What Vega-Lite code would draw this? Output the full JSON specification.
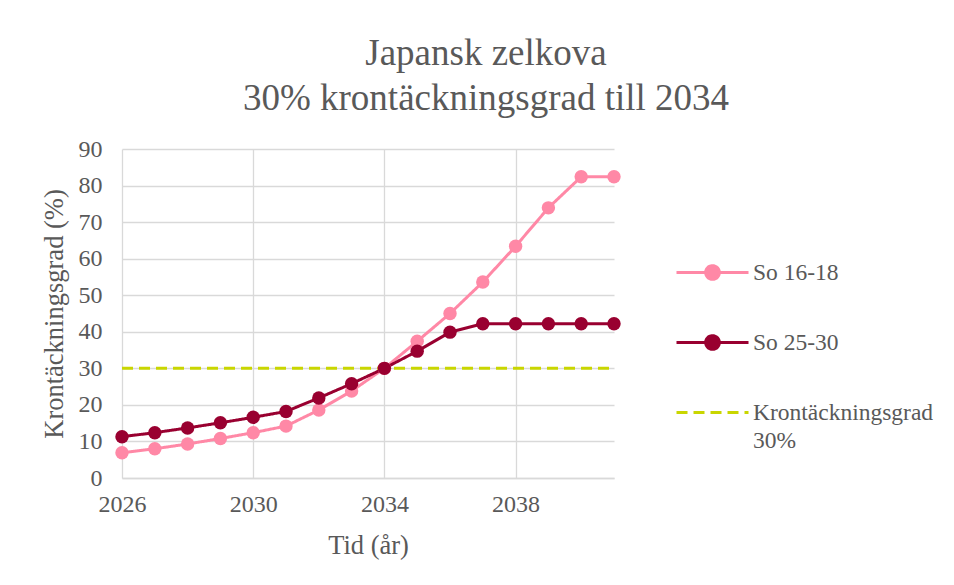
{
  "$schema": "https://vega.github.io/schema/vega-lite/v6.json",
  "autosize": "none",
  "width": 492,
  "height": 329,
  "padding": {"left": 122, "top": 149, "right": 340, "bottom": 107},
  "background": "white",
  "title": {
    "text": ["Japansk zelkova", "30% krontäckningsgrad till 2034"],
    "font": "Times New Roman, Liberation Serif, serif",
    "fontSize": 37,
    "fontWeight": "normal",
    "color": "#595959",
    "lineHeight": 45,
    "anchor": "middle",
    "dx": 118,
    "offset": 19
  },
  "data": {
    "values": [
      {"year": 2026, "series": "So 16-18", "value": 6.9},
      {"year": 2027, "series": "So 16-18", "value": 8.0},
      {"year": 2028, "series": "So 16-18", "value": 9.3},
      {"year": 2029, "series": "So 16-18", "value": 10.8},
      {"year": 2030, "series": "So 16-18", "value": 12.4},
      {"year": 2031, "series": "So 16-18", "value": 14.2},
      {"year": 2032, "series": "So 16-18", "value": 18.6},
      {"year": 2033, "series": "So 16-18", "value": 23.8},
      {"year": 2034, "series": "So 16-18", "value": 30.0},
      {"year": 2035, "series": "So 16-18", "value": 37.4},
      {"year": 2036, "series": "So 16-18", "value": 45.0},
      {"year": 2037, "series": "So 16-18", "value": 53.6},
      {"year": 2038, "series": "So 16-18", "value": 63.4},
      {"year": 2039, "series": "So 16-18", "value": 73.9},
      {"year": 2040, "series": "So 16-18", "value": 82.4},
      {"year": 2041, "series": "So 16-18", "value": 82.4},
      {"year": 2026, "series": "So 25-30", "value": 11.3},
      {"year": 2027, "series": "So 25-30", "value": 12.4},
      {"year": 2028, "series": "So 25-30", "value": 13.7},
      {"year": 2029, "series": "So 25-30", "value": 15.1},
      {"year": 2030, "series": "So 25-30", "value": 16.6},
      {"year": 2031, "series": "So 25-30", "value": 18.2},
      {"year": 2032, "series": "So 25-30", "value": 21.9},
      {"year": 2033, "series": "So 25-30", "value": 25.8},
      {"year": 2034, "series": "So 25-30", "value": 30.0},
      {"year": 2035, "series": "So 25-30", "value": 34.7},
      {"year": 2036, "series": "So 25-30", "value": 39.9},
      {"year": 2037, "series": "So 25-30", "value": 42.2},
      {"year": 2038, "series": "So 25-30", "value": 42.2},
      {"year": 2039, "series": "So 25-30", "value": 42.2},
      {"year": 2040, "series": "So 25-30", "value": 42.2},
      {"year": 2041, "series": "So 25-30", "value": 42.2},
      {"year": 2026, "series": "Krontäckningsgrad 30%", "value": 30},
      {"year": 2041, "series": "Krontäckningsgrad 30%", "value": 30}
    ]
  },
  "encoding": {
    "x": {
      "field": "year",
      "type": "quantitative",
      "scale": {"domain": [2026, 2041], "nice": false, "zero": false},
      "axis": {
        "title": "Tid (år)",
        "values": [2026, 2030, 2034, 2038],
        "format": "d",
        "grid": true,
        "gridColor": "#d9d9d9",
        "gridWidth": 1.3,
        "domainColor": "#d9d9d9",
        "domainWidth": 1.3,
        "ticks": false,
        "labelFlush": false,
        "labelPadding": 14,
        "titlePadding": 16
      }
    },
    "y": {
      "field": "value",
      "type": "quantitative",
      "scale": {"domain": [0, 90], "nice": false},
      "axis": {
        "title": "Krontäckningsgrad (%)",
        "values": [0, 10, 20, 30, 40, 50, 60, 70, 80, 90],
        "grid": true,
        "gridColor": "#d9d9d9",
        "gridWidth": 1.3,
        "domain": false,
        "ticks": false,
        "labelPadding": 20,
        "titlePadding": 10
      }
    },
    "color": {
      "field": "series",
      "type": "nominal",
      "scale": {
        "domain": ["So 16-18", "So 25-30", "Krontäckningsgrad 30%"],
        "range": ["#FF88A6", "#990030", "#C9D600"]
      },
      "legend": {
        "title": null,
        "orient": "none",
        "legendX": 553,
        "legendY": 86,
        "padding": 0,
        "rowPadding": 19,
        "symbolType": "M-1,0L1,0M-0.19,0A0.19,0.19,0,1,1,0.19,0A0.19,0.19,0,1,1,-0.19,0Z",
        "symbolSize": 5184,
        "symbolStrokeWidth": 3,
        "labelFont": "Times New Roman, Liberation Serif, serif",
        "labelFontSize": 23.5,
        "labelColor": "#595959",
        "labelOffset": 3,
        "labelLimit": 300,
        "labelExpr": "datum.label == 'Krontäckningsgrad 30%' ? ['Krontäckningsgrad', '30%'] : datum.label",
        "encode": {
          "symbols": {
            "update": {
              "shape": [
                {"test": "datum.value === 'Krontäckningsgrad 30%'", "value": "M-1,0L1,0"},
                {"value": "M-1,0L1,0M-0.19,0A0.19,0.19,0,1,1,0.19,0A0.19,0.19,0,1,1,-0.19,0Z"}
              ],
              "fill": [
                {"test": "datum.value === 'Krontäckningsgrad 30%'", "value": "transparent"},
                {"scale": "color", "field": "value"}
              ],
              "stroke": {"scale": "color", "field": "value"},
              "strokeDash": [
                {"test": "datum.value === 'Krontäckningsgrad 30%'", "value": [11, 6]},
                {"value": [1, 0]}
              ],
              "strokeWidth": {"value": 3},
              "opacity": {"value": 1}
            }
          },
          "labels": {
            "update": {
              "lineHeight": {"value": 28}
            }
          }
        }
      }
    }
  },
  "layer": [
    {
      "mark": {"type": "line", "strokeWidth": 3},
      "encoding": {
        "strokeDash": {
          "field": "series",
          "type": "nominal",
          "scale": {
            "domain": ["So 16-18", "So 25-30", "Krontäckningsgrad 30%"],
            "range": [[1, 0], [1, 0], [11, 6]]
          },
          "legend": null
        }
      }
    },
    {
      "transform": [{"filter": "datum.series != 'Krontäckningsgrad 30%'"}],
      "mark": {"type": "circle", "size": 180, "opacity": 1}
    }
  ],
  "config": {
    "view": {"stroke": null},
    "font": "Times New Roman, Liberation Serif, serif",
    "axis": {
      "labelFont": "Times New Roman, Liberation Serif, serif",
      "labelFontSize": 24,
      "labelColor": "#595959",
      "titleFont": "Times New Roman, Liberation Serif, serif",
      "titleFontSize": 26.5,
      "titleFontWeight": "normal",
      "titleColor": "#595959"
    }
  }
}
